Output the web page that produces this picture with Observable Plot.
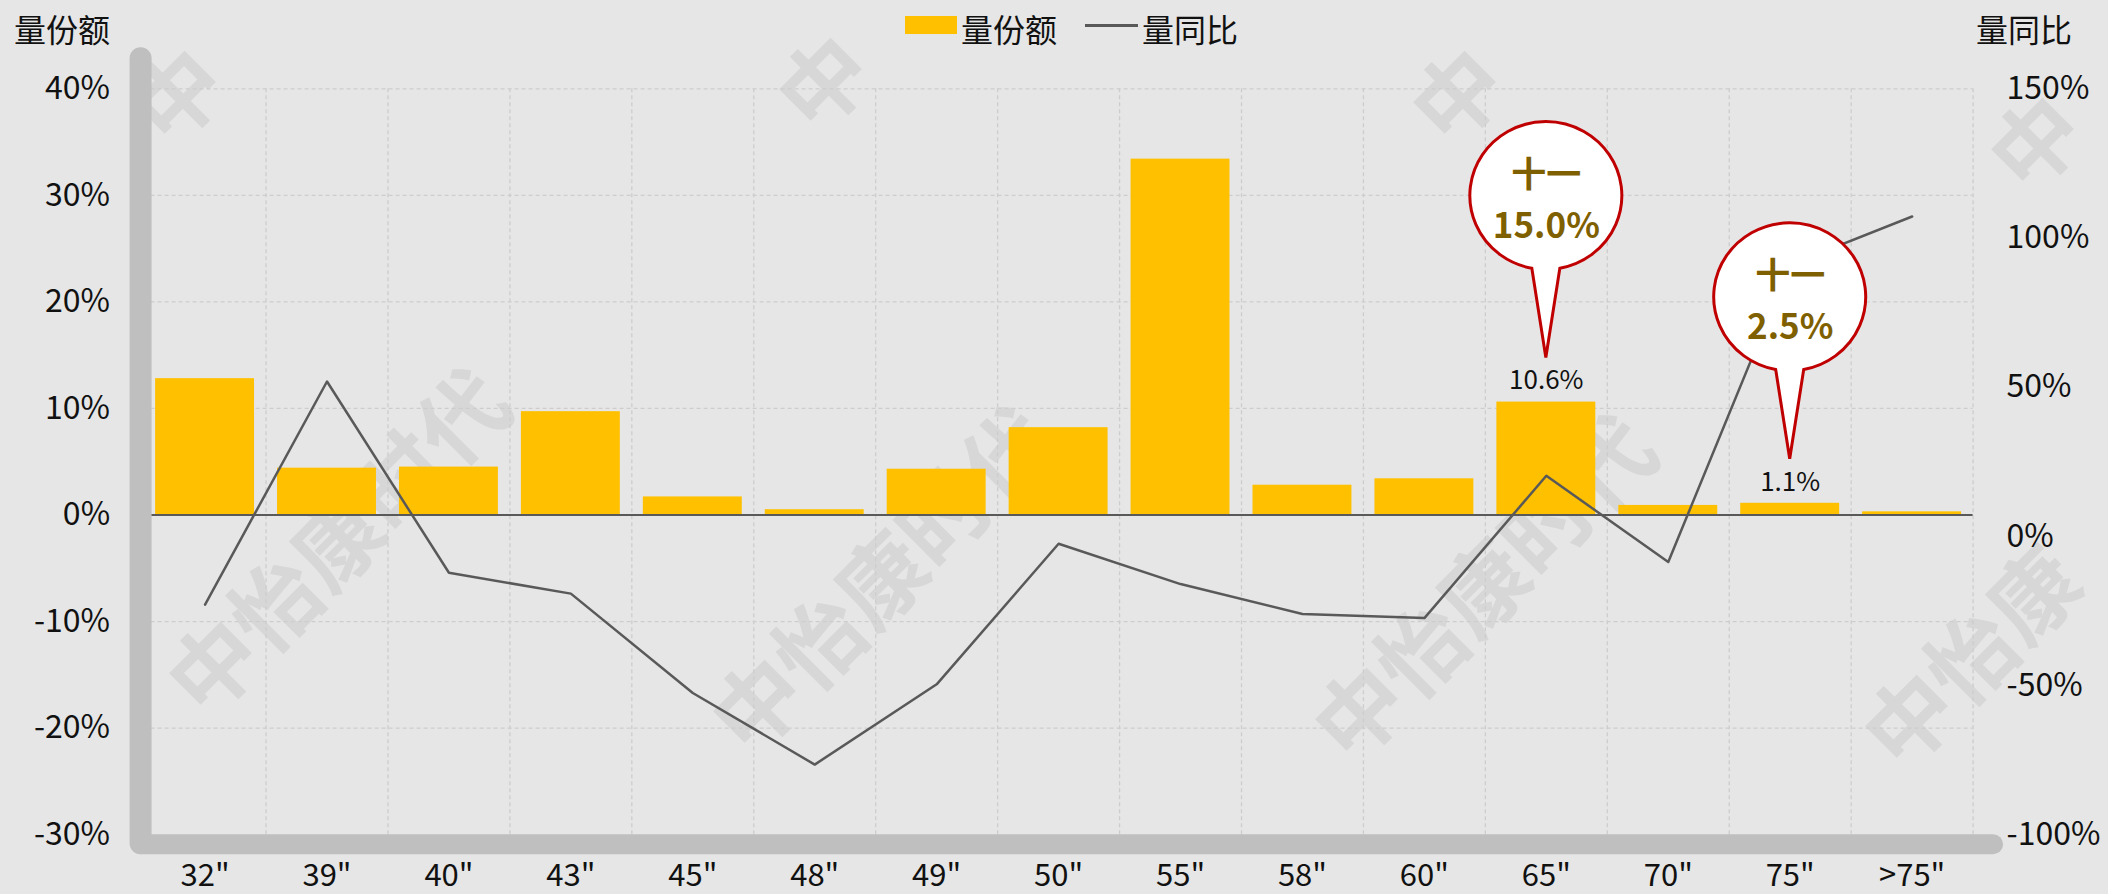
<!DOCTYPE html>
<html>
<head>
<meta charset="utf-8">
<script src="https://cdn.jsdelivr.net/npm/d3@7"></script>
<script src="https://cdn.jsdelivr.net/npm/@observablehq/plot@0.6"></script>
<style>
  body { margin: 0; background: #e6e6e6; font-family: "Noto Sans CJK SC", "Noto Sans", sans-serif; }
  #wrap { position: relative; width: 2108px; height: 894px; overflow: hidden; background: #e6e6e6; }
  #chart { position: absolute; left: 0; top: 0; }
  .lbl { position: absolute; font-size: 32px; color: #111; line-height: 1; white-space: nowrap; }
  .swatch { position: absolute; }
</style>
</head>
<body>
<div id="wrap">
  <div id="chart"></div>
  <div class="lbl" style="left:14px;top:12px">量份额</div>
  <div class="lbl" style="left:1976px;top:12px">量同比</div>
  <div class="swatch" style="left:905px;top:16px;width:52px;height:18px;background:#ffc000"></div>
  <div class="lbl" style="left:961px;top:12px">量份额</div>
  <div class="swatch" style="left:1085px;top:23.5px;width:53px;height:3px;background:#595959"></div>
  <div class="lbl" style="left:1142px;top:12px">量同比</div>
</div>
<script>
// ---- data ----
const categories = ['32"', '39"', '40"', '43"', '45"', '48"', '49"', '50"', '55"', '58"', '60"', '65"', '70"', '75"', '>75"'];
const shareValues = [12.8, 4.4, 4.5, 9.7, 1.7, 0.5, 4.3, 8.2, 33.4, 2.8, 3.4, 10.6, 0.9, 1.1, 0.3];
const yoyValues = [-22.9, 51.9, -12.2, -19.2, -52.5, -76.5, -49.6, -2.5, -16.0, -26.0, -27.4, 20.3, -8.6, 91.0, 107.2];
const leftTicks = [-30, -20, -10, 0, 10, 20, 30, 40];
const rightTicks = [-100, -50, 0, 50, 100, 150];
const labelCategories = ['65"', '75"'];
const calloutCategories = ['65"', '75"'];
const calloutTitle = "十一";
const calloutValues = ["15.0%", "2.5%"];
const watermarkText = "中怡康时代";

// ---- build ----
const toLeft = d3.scaleLinear([-100, 150], [-30, 40]);
const data = categories.map((c, i) => ({i, c, share: shareValues[i], yoy: yoyValues[i], yoyL: toLeft(yoyValues[i])}));
const labelData = data.filter(d => labelCategories.includes(d.c));
const calloutData = data.filter(d => calloutCategories.includes(d.c))
  .map(d => ({...d, value: calloutValues[calloutCategories.indexOf(d.c)]}));

// decorative watermark (background); only the characters that fit inside the picture are drawn
function watermark(index, scales) {
  const W = 2108, H = 894, s = 88, ux = Math.SQRT1_2, uy = -Math.SQRT1_2, pad = 46;
  const g = d3.create("svg:g")
    .attr("fill", "#d7d7d7")
    .attr("font-size", s)
    .attr("font-weight", 700)
    .attr("text-anchor", "middle")
    .attr("dominant-baseline", "central");
  const spots = [[298, -33], [334, 538], [878, 576], [944, -46], [1578, -33], [1480, 584], [2030, 591], [2156, 14]];
  const chars = Array.from(watermarkText);
  for (const [px, py] of spots) {
    const kept = [];
    chars.forEach((ch, k) => {
      const cx = px + (k - 2) * s * ux, cy = py + (k - 2) * s * uy;
      if (cx > pad && cx < W - pad && cy > pad && cy < H - pad) kept.push({ch, cx, cy});
    });
    if (!kept.length) continue;
    const mx = d3.mean(kept, d => d.cx), my = d3.mean(kept, d => d.cy);
    g.append("text").attr("transform", `translate(${mx},${my}) rotate(-45)`).text(kept.map(d => d.ch).join(""));
  }
  return g.node();
}

// thick rounded axis bars
function axisBars(index, scales) {
  const {x, y} = scales;
  const x0 = x(0), x1 = x(categories.length), yTop = y(40), yBot = y(-30);
  const g = d3.create("svg:g").attr("stroke", "#bfbfbf").attr("stroke-linecap", "round");
  g.append("line").attr("x1", x0 - 3).attr("x2", x0 - 3).attr("y1", yTop - 30).attr("y2", yBot + 9)
    .attr("stroke-width", 22);
  g.append("line").attr("x1", x0 - 3).attr("x2", x1 + 20.5).attr("y1", yBot + 10).attr("y2", yBot + 10)
    .attr("stroke-width", 20);
  return g.node();
}

// callout bubbles (ellipse with a pointer tail toward the bar label)
function callouts(index, scales) {
  const {x, y} = scales;
  const g = d3.create("svg:g")
    .attr("fill", "#ffffff").attr("stroke", "#c00000").attr("stroke-width", 3).attr("stroke-linejoin", "miter");
  for (const d of calloutData) {
    const tx = x(d.i + 0.5), ty = y(d.share) - 44;
    const cy = ty - 162, rx = 76, ry = 74, hw = 14;
    const by = cy + ry * Math.sqrt(1 - (hw / rx) ** 2);
    g.append("path").attr("d", `M${tx + hw},${by} A${rx},${ry} 0 1 0 ${tx - hw},${by} L${tx},${ty} Z`);
  }
  return g.node();
}

const chart = Plot.plot({
  width: 2108,
  height: 894,
  marginLeft: 143.6,
  marginRight: 135.4,
  marginTop: 88.3,
  marginBottom: 59.8,
  style: {background: "transparent", fontFamily: '"Noto Sans CJK SC", "Noto Sans", sans-serif', color: "#111", overflow: "visible"},
  x: {domain: [0, categories.length], axis: null},
  y: {domain: [-30, 40], axis: null},
  marks: [
    watermark,
    Plot.ruleY(leftTicks.filter(t => t !== 0 && t !== -30), {stroke: "#cdcdcd", strokeWidth: 1.3, strokeDasharray: "4,3"}),
    Plot.ruleX(d3.range(1, categories.length + 1), {stroke: "#cdcdcd", strokeWidth: 1.3, strokeDasharray: "4,3"}),
    Plot.rect(data, {x1: d => d.i, x2: d => d.i + 1, y1: d => 0, y2: "share", fill: "#ffc000", insetLeft: 11.5, insetRight: 11.5}),
    Plot.ruleY([0], {stroke: "#595959", strokeWidth: 2}),
    Plot.line(data, {x: d => d.i + 0.5, y: "yoyL", stroke: "#595959", strokeWidth: 2.5}),
    axisBars,
    Plot.axisY(leftTicks, {anchor: "left", tickSize: 0, tickPadding: 34, fontSize: 32, label: null, tickFormat: d => d + "%"}),
    Plot.axisY(rightTicks.map(toLeft), {anchor: "right", tickSize: 0, tickPadding: 33.5, fontSize: 32, label: null,
      tickFormat: d => Math.round(toLeft.invert(d)) + "%"}),
    Plot.axisX(data.map(d => d.i + 0.5), {anchor: "bottom", tickSize: 0, tickPadding: 29, fontSize: 31, label: null,
      tickFormat: d => categories[Math.floor(d)]}),
    Plot.text(labelData, {x: d => d.i + 0.5, y: "share", text: d => d.share.toFixed(1) + "%", dy: -21, fontSize: 26, fill: "#111"}),
    callouts,
    Plot.text(calloutData, {x: d => d.i + 0.5, y: "share", text: d => calloutTitle + "\n" + d.value,
      lineHeight: 1.46, dy: -206, fontSize: 35, fontWeight: "bold", fill: "#7f6000"})
  ]
});
document.getElementById("chart").appendChild(chart);
</script>
</body>
</html>
